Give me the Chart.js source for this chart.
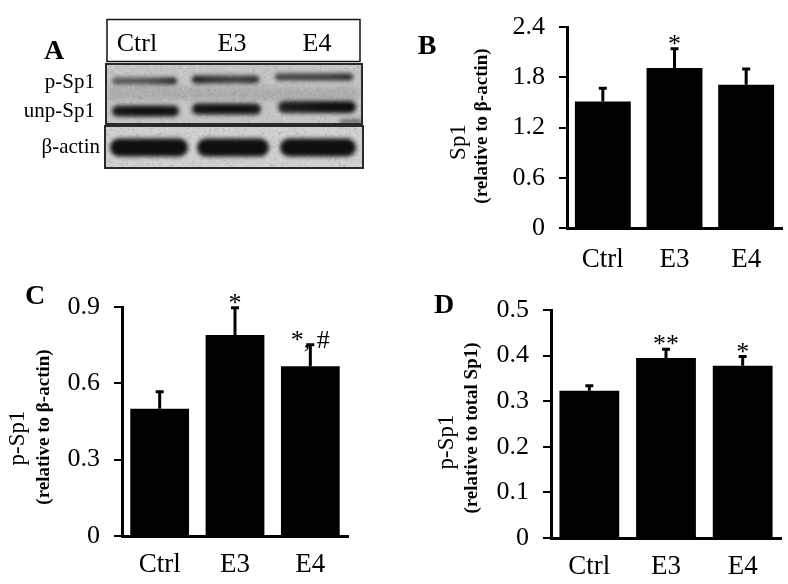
<!DOCTYPE html>
<html>
<head>
<meta charset="utf-8">
<script src="https://cdn.jsdelivr.net/npm/chart.js@4"></script>
<style>
  body { margin: 0; width: 788px; height: 584px; position: relative; background: #fff; overflow: hidden; }
  canvas { position: absolute; }
  .t { position: absolute; font-family: 'Liberation Serif', 'Times New Roman', serif; color: #000; line-height: 1; white-space: nowrap; transform: translate(-50%, -50%); }
  .r { transform: translate(-100%, -50%); }
  .v { transform: translate(-50%, -50%) rotate(-90deg); }
  .b { font-weight: bold; }
</style>
</head>
<body>
<canvas id="blot" width="400" height="180" style="left:0;top:0"></canvas>
<canvas id="chartB" width="388" height="280" style="left:400px;top:0"></canvas>
<canvas id="chartC" width="400" height="304" style="left:0;top:280px"></canvas>
<canvas id="chartD" width="388" height="304" style="left:400px;top:280px"></canvas>

<!-- panel letters -->
<div class="t b" style="left:54px;top:50px;font-size:28px">A</div>
<div class="t b" style="left:427px;top:45px;font-size:28px">B</div>
<div class="t b" style="left:35px;top:295px;font-size:28px">C</div>
<div class="t b" style="left:444px;top:304px;font-size:28px">D</div>

<!-- blot labels -->
<div class="t" style="left:137px;top:43px;font-size:26px">Ctrl</div>
<div class="t" style="left:232px;top:43px;font-size:26px">E3</div>
<div class="t" style="left:317px;top:43px;font-size:26px">E4</div>
<div class="t r" style="left:95px;top:81px;font-size:21px">p-Sp1</div>
<div class="t r" style="left:95px;top:110px;font-size:21px">unp-Sp1</div>
<div class="t r" style="left:100px;top:146px;font-size:21px">β-actin</div>

<!-- y axis titles -->
<div class="t v" style="left:457px;top:142px;font-size:23px">Sp1</div>
<div class="t v b" style="left:480px;top:126px;font-size:19px">(relative to β-actin)</div>
<div class="t v" style="left:16px;top:438px;font-size:23px">p-Sp1</div>
<div class="t v b" style="left:42px;top:427px;font-size:19px">(relative to β-actin)</div>
<div class="t v" style="left:445px;top:442px;font-size:23px">p-Sp1</div>
<div class="t v b" style="left:470px;top:428px;font-size:19px">(relative to total Sp1)</div>

<script>
const FONT = "'Liberation Serif', 'Times New Roman', serif";

const groups = ['Ctrl', 'E3', 'E4'];

// B: Sp1 relative to beta-actin
const sp1Values = [1.51, 1.91, 1.71];
const sp1Errors = [0.16, 0.23, 0.19];
const sp1Marks = ['', '*', ''];
const sp1Ticks = [0, 0.6, 1.2, 1.8, 2.4];

// C: p-Sp1 relative to beta-actin
const pSp1Values = [0.50, 0.79, 0.667];
const pSp1Errors = [0.067, 0.107, 0.085];
const pSp1Marks = ['', '*', '*, #'];
const pSp1Ticks = [0, 0.3, 0.6, 0.9];

// D: p-Sp1 relative to total Sp1
const ratioValues = [0.323, 0.395, 0.378];
const ratioErrors = [0.011, 0.019, 0.020];
const ratioMarks = ['', '**', '*'];
const ratioTicks = [0, 0.1, 0.2, 0.3, 0.4, 0.5];

// upper error whiskers and significance marks
const errorBars = {
  id: 'errorBars',
  afterDatasetsDraw(chart, args, opts) {
    const ctx = chart.ctx;
    const y = chart.scales.y;
    const values = chart.data.datasets[0].data;
    ctx.save();
    ctx.strokeStyle = '#000';
    ctx.fillStyle = '#000';
    ctx.lineWidth = 3;
    ctx.font = '26px ' + FONT;
    ctx.textAlign = 'center';
    ctx.textBaseline = 'alphabetic';
    chart.getDatasetMeta(0).data.forEach((bar, i) => {
      const top = y.getPixelForValue(values[i] + opts.errors[i]);
      ctx.beginPath();
      ctx.moveTo(bar.x, bar.y);
      ctx.lineTo(bar.x, top);
      ctx.moveTo(bar.x - 4, top);
      ctx.lineTo(bar.x + 4, top);
      ctx.stroke();
      if (opts.marks[i]) ctx.fillText(opts.marks[i], bar.x, top + 3);
    });
    ctx.restore();
  }
};

function makeChart(id, values, errors, marks, ticks, box) {
  return new Chart(document.getElementById(id), {
    type: 'bar',
    data: {
      labels: groups,
      datasets: [{
        data: values,
        backgroundColor: '#000',
        barPercentage: 0.78,
        categoryPercentage: 1,
      }],
    },
    options: {
      responsive: false,
      animation: false,
      devicePixelRatio: 1,
      layout: { padding: { left: 0, top: box.top, right: box.right, bottom: 0 } },
      plugins: {
        legend: { display: false },
        tooltip: { enabled: false },
        errorBars: { errors: errors, marks: marks },
      },
      scales: {
        x: {
          grid: { display: true, drawOnChartArea: false, drawTicks: false },
          border: { color: '#000', width: 3 },
          ticks: { color: '#000', padding: box.xPad, font: { family: FONT, size: 27, lineHeight: 1 } },
          afterFit(scale) { scale.height = box.xHeight; },
        },
        y: {
          min: ticks[0],
          max: ticks[ticks.length - 1],
          ticks: { stepSize: ticks[1] - ticks[0], color: '#000', padding: 14, font: { family: FONT, size: 26, lineHeight: 1 } },
          grid: { drawOnChartArea: false, color: '#000', lineWidth: 2, tickLength: 8 },
          border: { color: '#000', width: 3 },
          afterFit(scale) { scale.width = box.yWidth; },
        },
      },
    },
    plugins: [errorBars],
  });
}

makeChart('chartB', sp1Values, sp1Errors, sp1Marks, sp1Ticks,
  { yWidth: 167, top: 14, right: 6, xHeight: 52, xPad: 18 });
makeChart('chartC', pSp1Values, pSp1Errors, pSp1Marks, pSp1Ticks,
  { yWidth: 122, top: 25, right: 52, xHeight: 48, xPad: 15 });
makeChart('chartD', ratioValues, ratioErrors, ratioMarks, ratioTicks,
  { yWidth: 151, top: 30, right: 7, xHeight: 46, xPad: 15 });

// panel A: western blot picture (drawn, not data)
let seed = 7;
function grain() {
  seed = (seed * 16807) % 2147483647;
  return seed / 2147483647;
}

function band(ctx, x0, x1, cy, h, alphas) {
  const g = ctx.createLinearGradient(x0, 0, x1, 0);
  alphas.forEach((a, i) => g.addColorStop(i / (alphas.length - 1), 'rgba(15,15,15,' + a + ')'));
  ctx.fillStyle = g;
  ctx.beginPath();
  ctx.roundRect(x0, cy - h / 2, x1 - x0, h, h / 2);
  ctx.fill();
}

function membrane(ctx, x, y, w, h, bg, draw) {
  ctx.save();
  ctx.beginPath();
  ctx.rect(x, y, w, h);
  ctx.clip();
  ctx.fillStyle = bg;
  ctx.fillRect(x, y, w, h);
  for (let i = 0; i < w * h / 6; i++) {
    const g = Math.round(150 + grain() * 90);
    ctx.fillStyle = 'rgba(' + g + ',' + g + ',' + g + ',0.35)';
    ctx.fillRect(x + grain() * w, y + grain() * h, 1.5, 1.5);
  }
  ctx.filter = 'blur(2px)';
  draw(ctx);
  ctx.restore();
  ctx.lineWidth = 2;
  ctx.strokeStyle = '#2a2a2a';
  ctx.strokeRect(x, y, w, h);
}

function drawBlot() {
  const ctx = document.getElementById('blot').getContext('2d');
  ctx.lineWidth = 1.5;
  ctx.strokeStyle = '#111';
  ctx.strokeRect(107, 19.5, 253, 42);

  membrane(ctx, 106, 64, 256, 60, '#c4c4c4', c => {
    c.fillStyle = 'rgba(40,40,40,0.14)';
    c.fillRect(108, 87, 250, 13);
    band(c, 112, 177, 81, 7, [0.6, 0.62, 0.7, 0.92]);
    band(c, 192, 259, 79.5, 8, [0.92, 0.78, 0.72, 0.85]);
    band(c, 275, 353, 77, 7, [0.72, 0.75, 0.78, 0.88]);
    band(c, 112, 179, 111, 11, [0.92, 1, 1, 0.95]);
    band(c, 192, 261, 109, 11, [0.95, 1, 1, 0.95]);
    band(c, 278, 356, 107, 12, [0.9, 0.95, 1, 1]);
    c.fillStyle = 'rgba(20,20,20,0.8)';
    c.fillRect(340, 120, 22, 3);
  });

  membrane(ctx, 105, 126, 258, 42, '#d0d0d0', c => {
    band(c, 110, 188, 147.5, 18, [1, 1, 1, 1]);
    band(c, 197, 269, 147.5, 18, [1, 1, 1, 1]);
    band(c, 280, 356, 147.5, 18, [1, 1, 1, 1]);
  });
}
drawBlot();
</script>
</body>
</html>
